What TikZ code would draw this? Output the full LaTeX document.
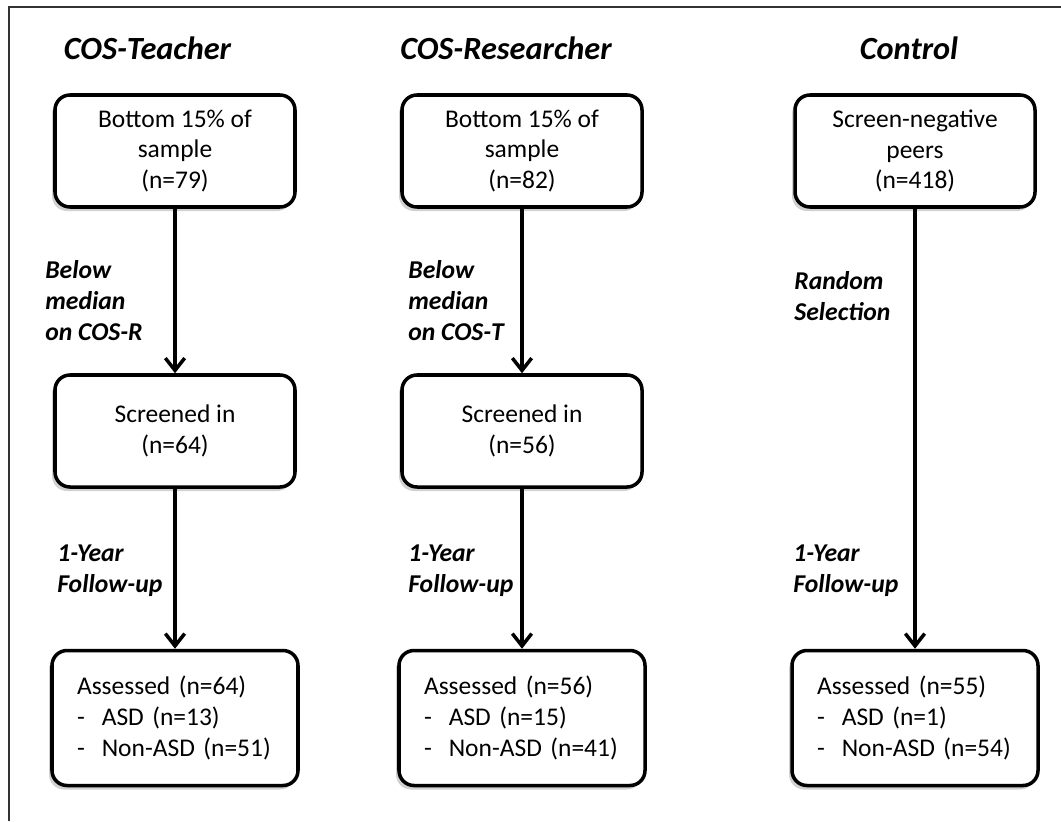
\documentclass[tikz,border=0pt]{standalone}
\usepackage{fontspec}
\setmainfont{Carlito}
\usepackage{tikz}
\usetikzlibrary{shapes,arrows.meta,positioning,calc,shadows}
\tikzstyle{heading} = [font=\fontsize{18.4}{22}\selectfont\bfseries\itshape]
\tikzstyle{stage} = [rectangle, rounded corners=0.3cm, minimum width=4.8cm, minimum height=2.24cm, align=center, draw=black, line width=2pt, fill=white, font=\fontsize{14.5}{17.6}\selectfont, drop shadow={shadow xshift=-0.06cm, shadow yshift=-0.08cm, fill=black!60, opacity=0.3}]
\tikzstyle{outcome} = [stage, minimum width=4.92cm, minimum height=2.7cm, text width=3.92cm, inner xsep=0.5cm, align=left]
\tikzstyle{note} = [anchor=west, inner sep=0pt, align=left, font=\fontsize{14.6}{17.6}\selectfont\bfseries\itshape]
\tikzstyle{arrow} = [line width=2pt, -{Straight Barb[length=7pt, width=11pt]}]

\begin{document}
\begin{tikzpicture}
\useasboundingbox (0,0) rectangle (21.22,-16.42);
\draw[line width=0.8pt, black!80] (0.18,-16.42) -- (0.18,-0.14) -- (21.22,-0.14);

% COS-Teacher
\node (teacher) [heading] at (2.95,-0.96) {COS-Teacher};
\node (tbottom) [stage] at (3.5,-3.02) {Bottom 15\% of\\sample\\(n=79)};
\node (tscreen) [stage] at (3.5,-8.62) {Screened in\\(n=64)};
\node (tassess) [outcome] at (3.5,-14.36) {Assessed (n=64)\\-\ \ ASD (n=13)\\-\ \ Non-ASD (n=51)};

% COS-Researcher
\node (researcher) [heading] at (10.12,-0.96) {COS-Researcher};
\node (rbottom) [stage] at (10.44,-3.02) {Bottom 15\% of\\sample\\(n=82)};
\node (rscreen) [stage] at (10.44,-8.62) {Screened in\\(n=56)};
\node (rassess) [outcome] at (10.44,-14.36) {Assessed (n=56)\\-\ \ ASD (n=15)\\-\ \ Non-ASD (n=41)};

% Control
\node (control) [heading] at (18.18,-0.96) {Control};
\node (peers) [stage] at (18.3,-3.02) {Screen-negative\\peers\\(n=418)};
\node (cassess) [outcome] at (18.3,-14.36) {Assessed (n=55)\\-\ \ ASD (n=1)\\-\ \ Non-ASD (n=54)};

% Arrows
\draw [arrow] (tbottom) -- (tscreen);
\draw [arrow] (tscreen) -- (tassess);
\draw [arrow] (rbottom) -- (rscreen);
\draw [arrow] (rscreen) -- (rassess);
\draw [arrow] (peers) -- (cassess);

% Arrow labels
\node (tmedian) [note] at (0.9,-6.02) {Below\\median\\on COS-R};
\node (tfollow) [note] at (1.14,-11.42) {1-Year\\Follow-up};
\node (rmedian) [note] at (8.16,-6.02) {Below\\median\\on COS-T};
\node (rfollow) [note] at (8.16,-11.42) {1-Year\\Follow-up};
\node (random) [note] at (15.88,-5.92) {Random\\Selection};
\node (cfollow) [note] at (15.86,-11.42) {1-Year\\Follow-up};

\end{tikzpicture}
\end{document}
